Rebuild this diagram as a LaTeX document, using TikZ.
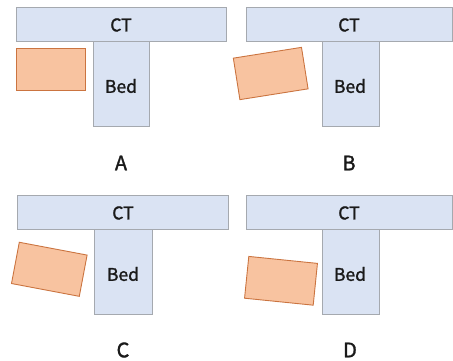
\documentclass[tikz,border=0pt]{standalone}
\usepackage{fontspec}
\setmainfont{Noto Sans CJK JP}[FakeBold=1.5]
\definecolor{barfill}{HTML}{DAE3F3}
\definecolor{bardraw}{HTML}{A5A9AF}
\definecolor{objfill}{HTML}{F8C3A0}
\definecolor{objdraw}{HTML}{CB7440}
\definecolor{txt}{HTML}{1A1A1A}
\tikzset{
  bar/.style={draw=bardraw, fill=barfill, line width=0.9pt},
  obj/.style={draw=objdraw, fill=objfill, line width=0.9pt, minimum width=69pt, minimum height=42pt, inner sep=0pt, rectangle},
  lbl/.style={text=txt, font=\fontsize{17.5}{19}\selectfont, inner sep=0pt},
  panellabel/.style={text=txt, font=\fontsize{20}{22}\selectfont, inner sep=0pt}
}
\begin{document}
\begin{tikzpicture}[x=1pt,y=-1pt]
\useasboundingbox (0,0) rectangle (453,361);
% Panel A
\draw[bar] (93,41) rectangle (149,126);
\draw[bar] (16,7) rectangle (226,41);
\node[lbl] (ctA) at (121,25) {CT};
\node[lbl] (bedA) at (121,86) {Bed};
\node[obj] (objA) at (50.5,69) {};
\node[panellabel] (labA) at (121,163) {A};
% Panel B
\draw[bar] (322,41) rectangle (379,126);
\draw[bar] (246,7) rectangle (452,41);
\node[lbl] (ctB) at (349,25) {CT};
\node[lbl] (bedB) at (350,86) {Bed};
\node[obj, rotate=9] (objB) at (270.7,73.5) {};
\node[panellabel] (labB) at (349,163) {B};
% Panel C
\draw[bar] (94,229) rectangle (152,314);
\draw[bar] (17,195) rectangle (228,229);
\node[lbl] (ctC) at (123,213) {CT};
\node[lbl] (bedC) at (123,274) {Bed};
\node[obj, rotate=-10.7] (objC) at (49.3,269.3) {};
\node[panellabel] (labC) at (123,350) {C};
% Panel D
\draw[bar] (322,229) rectangle (379,314);
\draw[bar] (246,195) rectangle (452,229);
\node[lbl] (ctD) at (349,213) {CT};
\node[lbl] (bedD) at (350,274) {Bed};
\node[obj, rotate=-5.8] (objD) at (281,280.8) {};
\node[panellabel] (labD) at (350,350) {D};
\end{tikzpicture}
\end{document}
